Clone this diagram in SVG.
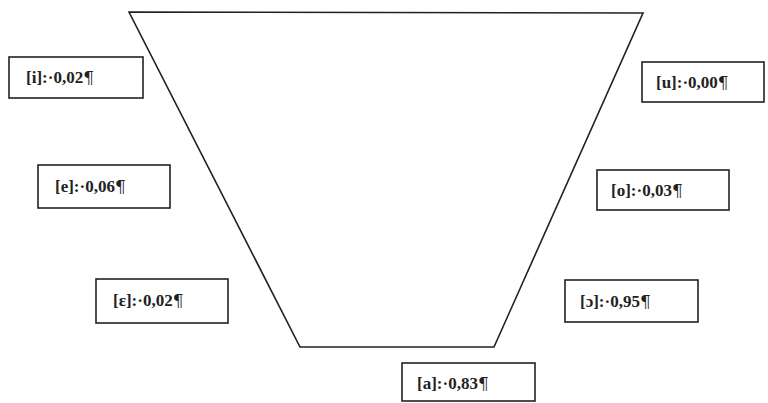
<svg xmlns="http://www.w3.org/2000/svg" width="768" height="403" viewBox="0 0 768 403">
<style>
.box{fill:#fff;stroke:#222;stroke-width:1.6}
.lbl{font-family:"Liberation Serif","Times New Roman",serif;font-weight:bold;font-size:17px;fill:#222}
.p{font-family:"DejaVu Serif","Liberation Serif",serif;font-weight:normal;fill:#222}
.shape{fill:none;stroke:#222;stroke-width:1.6}
</style>
<rect width="768" height="403" fill="#fff"/>
<g id="trapezoid"><polygon class="shape" points="129,12 643,13 494,347 300,347"/></g>
<g id="connectors"></g>
<g id="node-i"><rect class="box" x="9" y="57" width="134" height="41"/><text class="lbl" x="26" y="83">[i]:·0,02<tspan class="p">¶</tspan></text></g>
<g id="node-e"><rect class="box" x="38" y="165" width="132" height="43"/><text class="lbl" x="55" y="192">[e]:·0,06<tspan class="p">¶</tspan></text></g>
<g id="node-epsilon"><rect class="box" x="96" y="279" width="132" height="44"/><text class="lbl" x="113" y="306">[ɛ]:·0,02<tspan class="p">¶</tspan></text></g>
<g id="node-u"><rect class="box" x="642" y="62" width="122" height="40"/><text class="lbl" x="656" y="88">[u]:·0,00<tspan class="p">¶</tspan></text></g>
<g id="node-o"><rect class="box" x="597" y="170" width="132" height="40"/><text class="lbl" x="611" y="196">[o]:·0,03<tspan class="p">¶</tspan></text></g>
<g id="node-open-o"><rect class="box" x="565" y="280" width="133" height="42"/><text class="lbl" x="580" y="307">[ɔ]:·0,95<tspan class="p">¶</tspan></text></g>
<g id="node-a"><rect class="box" x="402" y="363" width="133" height="38"/><text class="lbl" x="417" y="389">[a]:·0,83<tspan class="p">¶</tspan></text></g>
</svg>
